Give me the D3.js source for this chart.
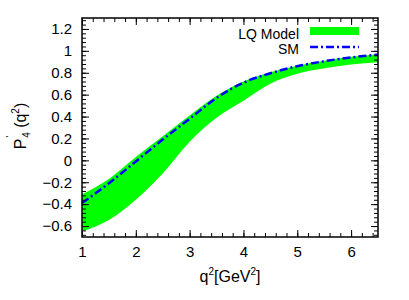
<!DOCTYPE html>
<html>
<head>
<meta charset="utf-8">
<script src="https://cdn.jsdelivr.net/npm/d3@7"></script>
<style>
  body { margin: 0; background: white; }
  text { font-family: "Liberation Sans", Arial, sans-serif; }
</style>
</head>
<body>
<script>
// values
const q2 = [1, 1.5, 2, 2.5, 3, 3.5, 4, 4.5, 5, 5.5, 6, 6.5]
const lqUpper = [-0.31, -0.17, 0.03, 0.22, 0.41, 0.59, 0.72, 0.805, 0.865, 0.91, 0.945, 0.97]
const lqLower = [-0.65, -0.545, -0.36, -0.12, 0.17, 0.39, 0.545, 0.70, 0.79, 0.84, 0.875, 0.895]
const sm = [-0.39, -0.21, -0.01, 0.19, 0.38, 0.57, 0.71, 0.795, 0.86, 0.905, 0.94, 0.965]
const xTicks = [1, 2, 3, 4, 5, 6]
const yTicks = [-0.6, -0.4, -0.2, 0, 0.2, 0.4, 0.6, 0.8, 1, 1.2]
const legendLabels = ["LQ Model", "SM"]

const [width, height] = [409, 300]
const m = {left: 82, right: 378, top: 18, bottom: 237}
const colors = {green: "#00ff00", blue: "#0000ff", black: "black"}

const x = d3.scaleLinear().domain([1, 6.5]).range([m.left, m.right])
const y = d3.scaleLinear().domain([-0.7, 1.3]).range([m.bottom, m.top])

const svg = d3.select("body").append("svg")
    .attr("width", width)
    .attr("height", height)

// band
const band = q2.map((q, i) => ({q, lo: lqLower[i], hi: lqUpper[i]}))
svg.append("path")
    .datum(band)
    .attr("fill", colors.green)
    .attr("d", d3.area().curve(d3.curveMonotoneX).x(d => x(d.q)).y0(d => y(d.lo)).y1(d => y(d.hi)))

// SM line
svg.append("path")
    .datum(q2.map((q, i) => ({q, v: sm[i]})))
    .attr("fill", "none")
    .attr("stroke", colors.blue)
    .attr("stroke-width", 2.5)
    .attr("stroke-dasharray", "8,3,2,3")
    .attr("d", d3.line().curve(d3.curveMonotoneX).x(d => x(d.q)).y(d => y(d.v)))

// axes, ticks inward on all four sides
const xMinor = d3.range(1, 6.5001, 0.2)
const yMinor = d3.range(-0.68, 1.3001, 0.04)

svg.append("g").attr("transform", `translate(0,${m.bottom})`)
    .call(d3.axisBottom(x).tickValues(xMinor).tickSize(-4).tickFormat(""))
svg.append("g").attr("transform", `translate(0,${m.top})`)
    .call(d3.axisTop(x).tickValues(xMinor).tickSize(-4).tickFormat(""))
svg.append("g").attr("transform", `translate(0,${m.bottom})`)
    .call(d3.axisBottom(x).tickValues(xTicks).tickSize(-7).tickPadding(9).tickFormat(d3.format("d")))
svg.append("g").attr("transform", `translate(0,${m.top})`)
    .call(d3.axisTop(x).tickValues(xTicks).tickSize(-7).tickFormat(""))

svg.append("g").attr("transform", `translate(${m.left},0)`)
    .call(d3.axisLeft(y).tickValues(yMinor).tickSize(-4).tickFormat(""))
svg.append("g").attr("transform", `translate(${m.right},0)`)
    .call(d3.axisRight(y).tickValues(yMinor).tickSize(-4).tickFormat(""))
svg.append("g").attr("transform", `translate(${m.left},0)`)
    .call(d3.axisLeft(y).tickValues(yTicks).tickSize(-7).tickPadding(10).tickFormat(d => d3.format("")(+d.toFixed(1))))
svg.append("g").attr("transform", `translate(${m.right},0)`)
    .call(d3.axisRight(y).tickValues(yTicks).tickSize(-7).tickFormat(""))

svg.selectAll(".domain").remove()
svg.selectAll(".tick line").attr("stroke", colors.black)
svg.selectAll(".tick text")
    .attr("font-size", 15)
    .attr("fill", colors.black)
    .style("font-family", "Liberation Sans, Arial, sans-serif")

svg.append("rect")
    .attr("x", m.left).attr("y", m.top)
    .attr("width", m.right - m.left).attr("height", m.bottom - m.top)
    .attr("fill", "none")
    .attr("stroke", colors.black)
    .attr("stroke-width", 1.5)

// legend
const leg = svg.append("g")
leg.selectAll("text")
    .data(legendLabels)
    .enter()
    .append("text")
        .attr("x", 299)
        .attr("y", (d, i) => 38.5 + i * 15)
        .attr("text-anchor", "end")
        .attr("font-size", 14)
        .text(d => d)
leg.append("rect")
    .attr("x", 310).attr("y", 27).attr("width", 49).attr("height", 8)
    .attr("fill", colors.green)
leg.append("line")
    .attr("x1", 310).attr("x2", 359).attr("y1", 47).attr("y2", 47)
    .attr("stroke", colors.blue)
    .attr("stroke-width", 2.5)
    .attr("stroke-dasharray", "8,3,2,3")

// axis titles
const xt = svg.append("text")
    .attr("x", 230).attr("y", 282)
    .attr("text-anchor", "middle")
    .attr("font-size", 16)
xt.append("tspan").text("q")
xt.append("tspan").attr("dy", -7).attr("font-size", 10).text("2")
xt.append("tspan").attr("dy", 7).text("[GeV")
xt.append("tspan").attr("dy", -7).attr("font-size", 10).text("2")
xt.append("tspan").attr("dy", 7).text("]")

const yt = svg.append("text")
    .attr("transform", "translate(26,126) rotate(-90)")
    .attr("text-anchor", "middle")
    .attr("font-size", 16)
yt.append("tspan").text("P")
yt.append("tspan").attr("dy", -14).attr("dx", 1).attr("font-size", 9).text("'")
yt.append("tspan").attr("dy", 18).attr("dx", -2).attr("font-size", 10).text("4")
yt.append("tspan").attr("dy", -4).text(" (q")
yt.append("tspan").attr("dy", -7).attr("font-size", 10).text("2")
yt.append("tspan").attr("dy", 7).text(")")
</script>
</body>
</html>
